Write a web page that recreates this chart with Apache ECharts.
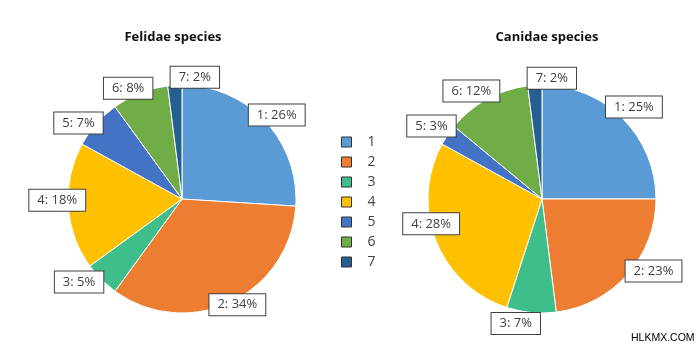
<!DOCTYPE html>
<html>
<head>
<meta charset="utf-8">
<script src="https://cdn.jsdelivr.net/npm/echarts@6/dist/echarts.min.js"></script>
<style>html,body{margin:0;padding:0;background:#fff;}#c{width:700px;height:347px;}</style>
</head>
<body>
<div id="c"></div>
<script>
var categories = ['1', '2', '3', '4', '5', '6', '7'];
var felidaeValues = [26, 34, 5, 18, 7, 8, 2];
var canidaeValues = [25, 23, 7, 28, 3, 12, 2];
var titles = ['Felidae species', 'Canidae species'];
var colors = ['#5B9BD5', '#ED7D31', '#3DBE8A', '#FFC000', '#4472C4', '#70AD47', '#255E91'];

function toData(vals) {
  return categories.map(function (c, i) { return { name: c, value: vals[i] }; });
}
var FONT = '"Open Sans", "Noto Sans", sans-serif';
// small label nudges imitating the reference's "best fit" placement
var felidaeNudge = [[0, 5], [0, -12], [-11, -9], [5, -7], [-6, 10], [-6, 10], [21, 8]];
var canidaeNudge = [[0, 0], [14, -14], [-14, -5], [10, -23], [-3, 0], [-8, 6], [18, 9]];

function mainPie(vals, cx) {
  return {
    type: 'pie', center: [cx, 199], radius: 114, startAngle: 90, clockwise: true,
    label: { show: false }, labelLine: { show: false },
    itemStyle: { borderColor: '#ffffff', borderWidth: 1 },
    emphasis: { disabled: true }, silent: true,
    data: toData(vals)
  };
}
function labelRing(vals, cx, nudge) {
  return {
    type: 'pie', center: [cx, 199], radius: [114, 140], startAngle: 90, clockwise: true,
    itemStyle: { color: 'rgba(0,0,0,0)' }, silent: true, emphasis: { disabled: true },
    avoidLabelOverlap: false, labelLine: { show: false },
    labelLayout: function (p) { var n = nudge[p.dataIndex]; return { dx: n[0], dy: n[1], hideOverlap: false }; },
    label: {
      show: true, position: 'inside', formatter: '{b}: {c}%', fontFamily: FONT, fontSize: 13,
      color: '#404040', backgroundColor: '#ffffff', borderColor: '#404040', borderWidth: 1,
      padding: [4, 8]
    },
    data: toData(vals)
  };
}
var chart = echarts.init(document.getElementById('c'), null, { renderer: 'canvas' });
chart.setOption({
  animation: false,
  color: colors,
  title: [
    { text: titles[0], left: 168, top: 26, textAlign: 'center', textStyle: { fontFamily: FONT, fontSize: 13, fontWeight: 'bold', color: '#111' } },
    { text: titles[1], left: 542, top: 26, textAlign: 'center', textStyle: { fontFamily: FONT, fontSize: 13, fontWeight: 'bold', color: '#111' } },
    { text: 'HLKMX.COM', left: 631, top: 333, padding: 0, textStyle: { fontFamily: 'Liberation Sans, Arial, sans-serif', fontSize: 10.5, fontWeight: 'normal', color: '#000' } }
  ],
  legend: {
    orient: 'vertical', left: 341, top: 135, padding: 0, icon: 'rect', itemWidth: 10, itemHeight: 10, itemGap: 6,
    data: categories,
    itemStyle: { borderColor: '#333', borderWidth: 1 },
    textStyle: { fontFamily: FONT, fontSize: 14, color: '#404040', padding: [0, 0, 0, 11] },
    selectedMode: false
  },
  series: [mainPie(felidaeValues, 182), mainPie(canidaeValues, 542), labelRing(felidaeValues, 182, felidaeNudge), labelRing(canidaeValues, 542, canidaeNudge)]
});
</script>
</body>
</html>
